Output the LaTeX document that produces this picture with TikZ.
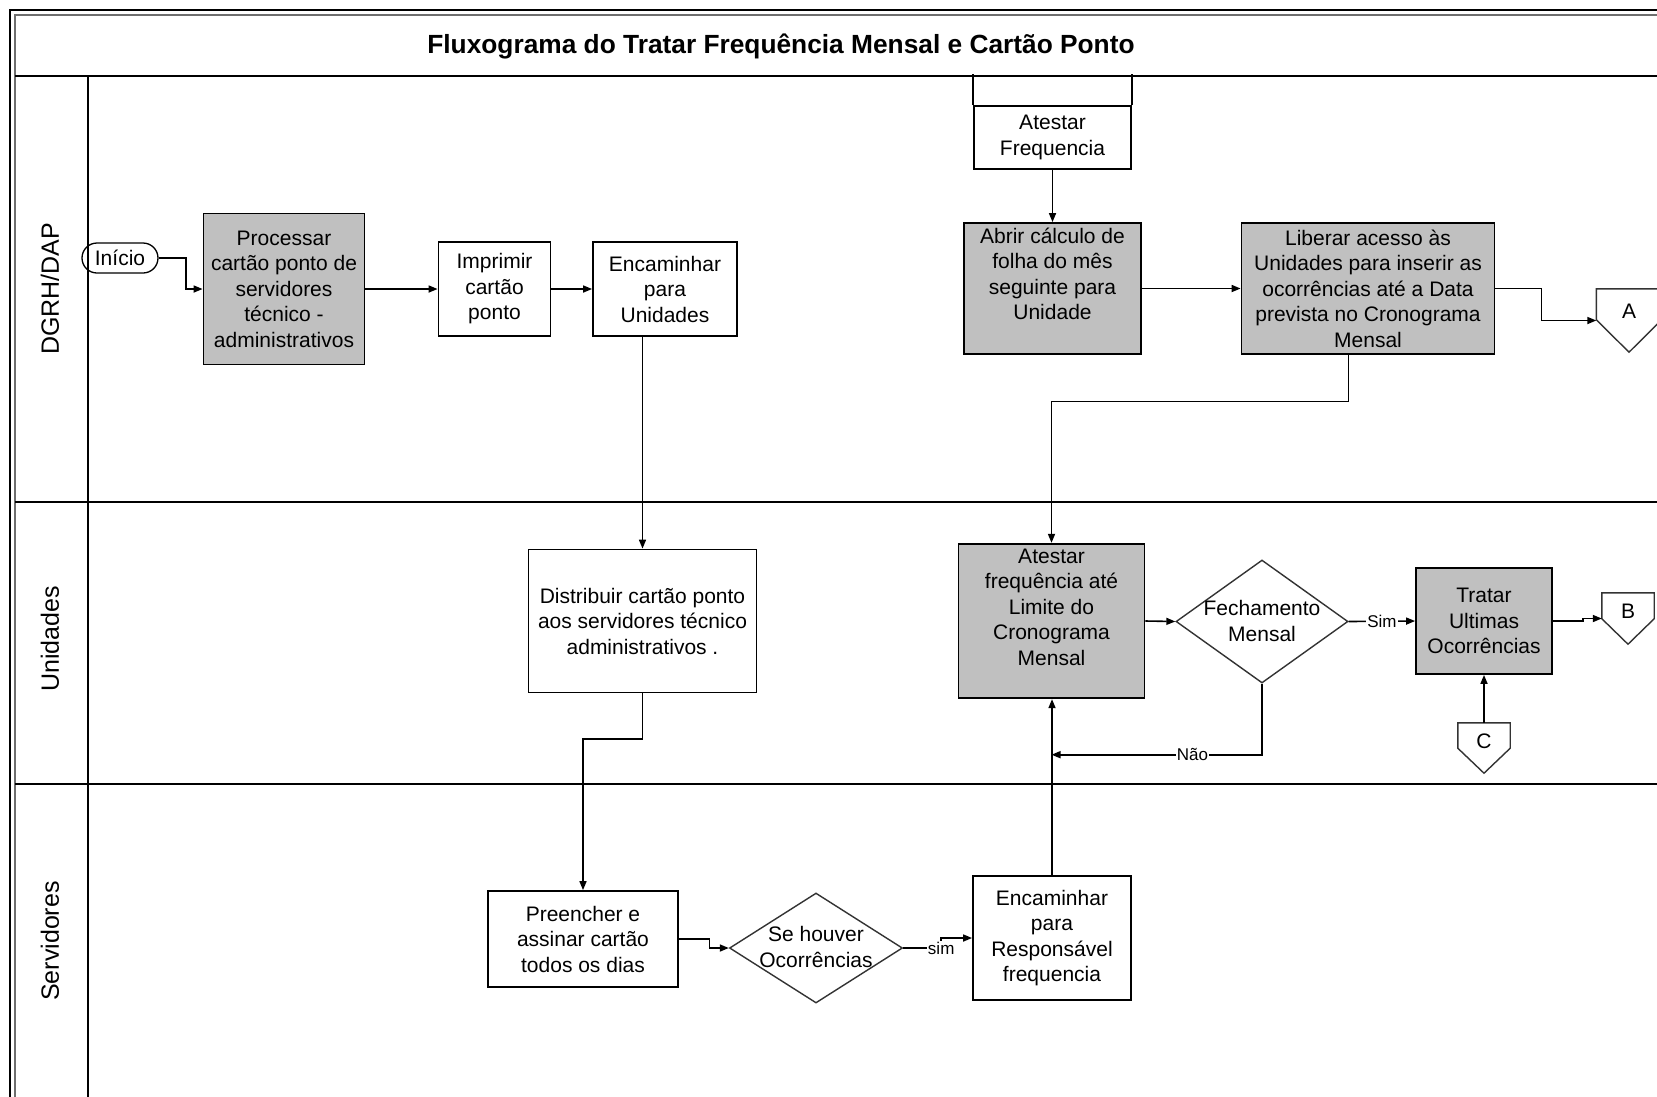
\documentclass[tikz,border=0pt]{standalone}
\usepackage{fontspec}
\setmainfont{Liberation Sans}
\usetikzlibrary{arrows.meta,shapes.geometric}
\definecolor{boxgray}{RGB}{192,192,192}
\definecolor{framegray}{RGB}{110,110,110}
\begin{document}
\begin{tikzpicture}[x=1pt,y=-1pt,
    font=\fontsize{21}{25.5}\selectfont,
    box/.style={draw,line width=1.8pt,align=center,inner sep=0pt},
    graybox/.style={box,fill=boxgray},
    txt/.style={align=center,inner sep=0pt},
    decision/.style={diamond,draw=black!80,line width=1.4pt,inner sep=0pt},
    offpage/.style={inner sep=0pt},
    offline/.style={draw=black!80,line width=1.4pt,line join=miter},
    lanetext/.style={rotate=90,font=\fontsize{25}{30}\selectfont},
    flow/.style={line width=1.6pt,-{Triangle[length=9pt,width=7pt]}},
    lbl/.style={font=\fontsize{17}{17}\selectfont,fill=white,inner sep=1pt}]

    % page
    \useasboundingbox (0,0) rectangle (1657,1096);
    \clip (0,0) rectangle (1657,1096);
    \fill[white] (0,0) rectangle (1657,1096);

    % frame and lanes
    \draw[line width=2.5pt] (10,1100)--(10,10)--(1660,10);
    \draw[line width=2pt,framegray] (15,1100)--(15,15)--(1660,15);
    \draw[line width=2pt] (15,76)--(1660,76);
    \draw[line width=2pt] (88,76)--(88,1100);
    \draw[line width=2pt] (15,502)--(1660,502);
    \draw[line width=2pt] (15,784)--(1660,784);

    \node[font=\fontsize{26.3}{30}\selectfont\bfseries] (title) at (781,46) {Fluxograma do Tratar Frequência Mensal e Cartão Ponto};
    \node[lanetext] (dgrh) at (50,289) {DGRH/DAP};
    \node[lanetext] (unid) at (50,639) {Unidades};
    \node[lanetext] (serv) at (50,941) {Servidores};

    % DGRH/DAP
    \node[draw,line width=1.3pt,rounded corners=15pt,minimum width=76pt,minimum height=30pt,inner sep=0pt] (inicio) at (120,258) {Início};
    \node[graybox,minimum width=161pt,minimum height=151pt] (proc) at (284,289) {Processar\\cartão ponto de\\servidores\\técnico -\\administrativos};
    \node[box,minimum width=112pt,minimum height=94pt] (impr) at (494.5,289) {Imprimir\\cartão\\ponto};
    \node[box,minimum width=144pt,minimum height=94pt] (encun) at (665,289) {Encaminhar\\para\\Unidades};
    \node[box,minimum width=157pt,minimum height=63pt] (atfreq) at (1052.5,137.5) {Atestar\\Frequencia};
    \node[graybox,minimum width=177pt,minimum height=131pt] (abrir) at (1052.5,288.5) {};
    \node[txt] (abrirtxt) at (1052.5,274) {Abrir cálculo de\\folha do mês\\seguinte para\\Unidade};
    \node[graybox,minimum width=253pt,minimum height=131pt] (liber) at (1368,288.5) {Liberar acesso às\\Unidades para inserir as\\ocorrências até a Data\\prevista no Cronograma\\Mensal};
    \node[offpage,minimum width=65pt,minimum height=63pt] (offA) at (1629,320.5) {\raisebox{9pt}[\height][\depth]{A}};

    % Unidades
    \node[box,minimum width=228pt,minimum height=143pt] (distr) at (642.5,621) {Distribuir cartão ponto\\aos servidores técnico\\administrativos .};
    \node[graybox,minimum width=186pt,minimum height=154.5pt] (atest) at (1051.5,621) {};
    \node[txt] (atesttxt) at (1051.5,607) {Atestar\\frequência até\\Limite do\\Cronograma\\Mensal};
    \node[decision,minimum width=172pt,minimum height=123pt] (fech) at (1262,621.5) {};
    \node[txt] (fechtxt) at (1262,621) {Fechamento\\Mensal};
    \node[graybox,minimum width=136pt,minimum height=106pt] (tratar) at (1484,621) {Tratar\\Ultimas\\Ocorrências};
    \node[offpage,minimum width=52pt,minimum height=51pt] (offB) at (1628,618.5) {\raisebox{7pt}[\height][\depth]{B}};
    \node[offpage,minimum width=52pt,minimum height=50pt] (offC) at (1484,748) {\raisebox{6.5pt}[\height][\depth]{C}};

    % off-page outlines
    \foreach \n/\t in {offA/32.5,offB/25.5,offC/25}
        \draw[offline] (\n.north west)--(\n.north east)--([yshift=\t pt]\n.south east)--(\n.south)--([yshift=\t pt]\n.south west)--cycle;

    % Servidores
    \node[box,minimum width=190pt,minimum height=96pt] (preen) at (583,939) {Preencher e\\assinar cartão\\todos os dias};
    \node[decision,minimum width=173pt,minimum height=110pt] (sehouv) at (816,948) {};
    \node[txt] (sehouvtxt) at (816,947) {Se houver\\Ocorrências};
    \node[box,minimum width=158pt,minimum height=124pt] (encresp) at (1052,938) {Encaminhar\\para\\Responsável\\frequencia};

    % connectors
    \draw[flow] (inicio.east)--++(27.5,0)|-(proc.west);
    \draw[flow] (proc)--(impr);
    \draw[flow] (impr)--(encun);
    \draw[flow] (distr.north |- encun.south)--(distr.north);
    \draw[flow] (distr.south)--++(0,45.5)-|(preen.north);
    \draw[flow] (preen.east)--++(30.5,0)|-(sehouv.west);
    \draw[flow] (sehouv.east)--++(38,0) node[lbl]{sim} |-(encresp.west);
    \draw[flow] (encresp.north)--(encresp.north |- atest.south);
    \draw[flow] (atest.east)--(fech.west);
    \draw[flow] (fech.east)-- node[lbl]{Sim} (tratar.west);
    \draw[flow] (fech.south)--++(0,71) coordinate (naoturn)-- node[lbl,pos=0.33]{Não} (naoturn -| atest.south);
    \draw[line width=1.8pt] (atfreq.north west)--++(0,-31);
    \draw[line width=1.8pt] (atfreq.north east)--++(0,-31);
    \draw[flow] (atfreq.south)--(abrir.north);
    \draw[flow] (abrir)--(liber);
    \draw[flow] ([xshift=-19.5pt]liber.south)--++(0,46.5)-|(atest.north);
    \draw[flow] (liber.east)--++(46,0)|-(offA.west);
    \draw[flow] (tratar.east)--++(30,0)|-(offB.west);
    \draw[flow] (offC.north)--(tratar.south);
\end{tikzpicture}
\end{document}
